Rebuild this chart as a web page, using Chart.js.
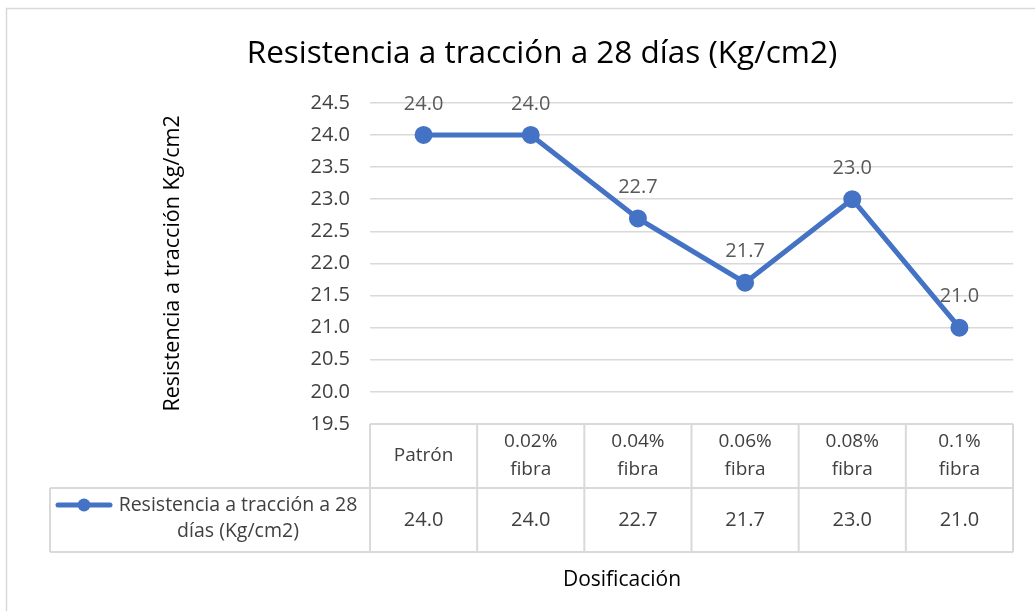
<!DOCTYPE html>
<html>
<head>
<meta charset="utf-8">
<script src="https://cdn.jsdelivr.net/npm/chart.js@4"></script>
<style>
  html, body { margin: 0; padding: 0; background: #fff; overflow: hidden; }
  #wrap { position: relative; width: 1035px; height: 611px; }
</style>
</head>
<body>
<div id="wrap"><canvas id="chart" width="1035" height="611"></canvas></div>
<script>
// Resistencia a tracción a 28 días
const CATEGORIES = [['Patrón'], ['0.02%', 'fibra'], ['0.04%', 'fibra'], ['0.06%', 'fibra'], ['0.08%', 'fibra'], ['0.1%', 'fibra']];
const VALUES = [24.0, 24.0, 22.7, 21.7, 23.0, 21.0];
const SERIES_NAME = ['Resistencia a tracción a 28', 'días (Kg/cm2)'];
const X_TITLE = 'Dosificación';
const Y_MIN = 19.5, Y_MAX = 24.5, Y_STEP = 0.5;

const FONT = 'Open Sans, Noto Sans, sans-serif';
const BLUE = '#4472C4';
const GRID = '#d9d9d9';

// ── Data table + point labels + frame ─────────────────────────────
const tablePlugin = {
  id: 'dataTable',
  beforeDraw(chart) {
    const ctx = chart.ctx;
    ctx.save();
    ctx.strokeStyle = GRID;
    ctx.lineWidth = 1.5;
    ctx.beginPath();
    ctx.moveTo(6.5, 620);
    ctx.lineTo(6.5, 8.5);
    ctx.lineTo(1040, 8.5);
    ctx.stroke();
    ctx.restore();
  },
  afterDatasetsDraw(chart) {
    const ctx = chart.ctx;
    const x = chart.scales.x;
    const area = chart.chartArea;
    const step = x.getPixelForValue(1) - x.getPixelForValue(0);
    const rowH = 64;
    const top = area.bottom, mid = top + rowH, bot = mid + rowH;
    const legLeft = 50;

    ctx.save();
    // point labels
    const meta = chart.getDatasetMeta(0);
    ctx.font = '20px ' + FONT;
    ctx.fillStyle = '#595959';
    ctx.textAlign = 'center';
    ctx.textBaseline = 'middle';
    meta.data.forEach((pt, i) => {
      ctx.fillText(VALUES[i].toFixed(1), pt.x, pt.y - 31);
    });

    // table grid
    ctx.strokeStyle = GRID;
    ctx.lineWidth = 2;
    ctx.beginPath();
    ctx.moveTo(area.left, top); ctx.lineTo(area.right, top);
    ctx.moveTo(legLeft, mid); ctx.lineTo(area.right, mid);
    ctx.moveTo(legLeft, bot); ctx.lineTo(area.right, bot);
    ctx.moveTo(legLeft, mid); ctx.lineTo(legLeft, bot);
    for (let i = 0; i <= CATEGORIES.length; i++) {
      const px = x.getPixelForValue(i) - step / 2;
      ctx.moveTo(px, top); ctx.lineTo(px, bot);
    }
    ctx.stroke();

    // header + values
    ctx.fillStyle = '#404040';
    CATEGORIES.forEach((lines, i) => {
      const px = x.getPixelForValue(i);
      const lh = 28;
      const y0 = (top + mid) / 2 - (lines.length - 1) * lh / 2;
      ctx.font = '19px ' + FONT;
      lines.forEach((t, j) => ctx.fillText(t, px, y0 + j * lh));
      ctx.font = '20px ' + FONT;
      ctx.fillText(VALUES[i].toFixed(1), px, (mid + bot) / 2);
    });

    // legend key
    const ky = mid + 17;
    ctx.strokeStyle = BLUE;
    ctx.lineWidth = 5;
    ctx.lineCap = 'round';
    ctx.beginPath();
    ctx.moveTo(58, ky); ctx.lineTo(110, ky);
    ctx.stroke();
    ctx.fillStyle = BLUE;
    ctx.beginPath();
    ctx.arc(84, ky, 6.5, 0, Math.PI * 2);
    ctx.fill();
    ctx.fillStyle = '#404040';
    ctx.font = '19.5px ' + FONT;
    ctx.fillText(SERIES_NAME[0], 238, mid + 17);
    ctx.fillText(SERIES_NAME[1], 238, mid + 43);

    // axis title
    ctx.fillStyle = '#000';
    ctx.font = '21px ' + FONT;
    ctx.fillText(X_TITLE, 622, 580);
    ctx.restore();
  }
};

new Chart(document.getElementById('chart'), {
  type: 'line',
  data: {
    labels: CATEGORIES.map(c => c.join(' ')),
    datasets: [{
      label: SERIES_NAME.join(' '),
      data: VALUES,
      borderColor: BLUE,
      backgroundColor: BLUE,
      borderWidth: 5,
      pointRadius: 6.5,
      pointHoverRadius: 6.5,
      tension: 0,
    }]
  },
  options: {
    responsive: false,
    animation: false,
    events: [],
    layout: { padding: { top: 10, left: 71, right: 22, bottom: 0 } },
    plugins: {
      legend: { display: false },
      tooltip: { enabled: false },
      title: {
        display: true,
        text: 'Resistencia a tracción a 28 días (Kg/cm2)',
        color: '#000',
        font: { family: FONT, size: 31.5, weight: 'normal' },
        padding: { top: 25, bottom: 30 },
      }
    },
    scales: {
      x: {
        offset: true,
        grid: { display: false },
        border: { display: false },
        ticks: { display: false },
        afterFit: s => { s.height = 187; }
      },
      y: {
        min: Y_MIN,
        max: Y_MAX,
        ticks: {
          stepSize: Y_STEP,
          padding: 20,
          color: '#404040',
          font: { family: FONT, size: 20 },
          callback: v => Number(v).toFixed(1)
        },
        grid: { color: GRID, lineWidth: 1.5, drawTicks: false },
        border: { display: false },
        title: {
          display: true,
          text: 'Resistencia a tracción Kg/cm2',
          color: '#000',
          font: { family: FONT, size: 21.5 },
          padding: { top: 89, bottom: 0 },
        },
        afterFit: s => { s.width = 299; }
      }
    }
  },
  plugins: [tablePlugin]
});
</script>
</body>
</html>
